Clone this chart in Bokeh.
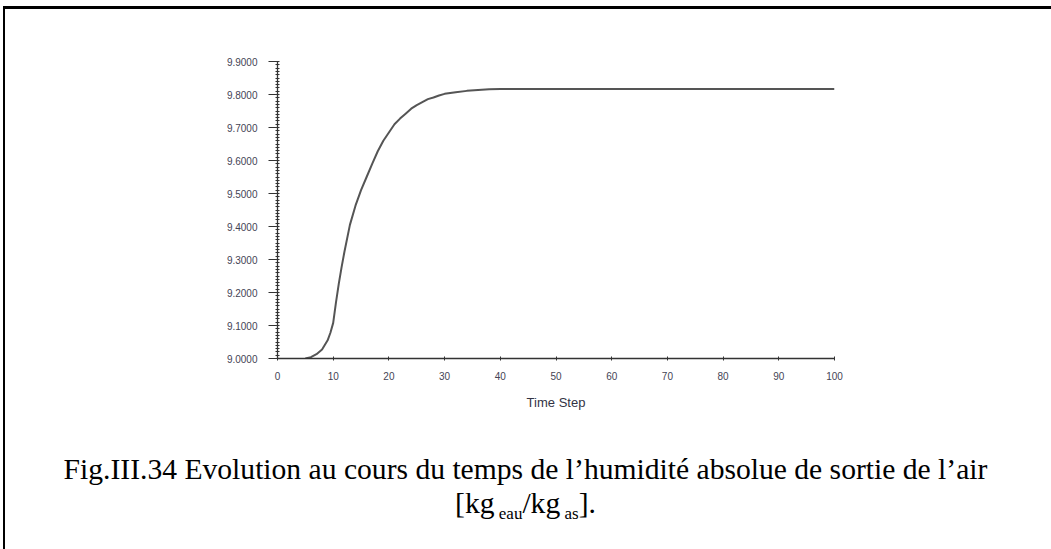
from bokeh.plotting import figure
from bokeh.models import Div, FixedTicker, NumeralTickFormatter
from bokeh.layouts import column
from bokeh.embed import file_html
from bokeh.resources import INLINE
import numpy as np

# ---- data ----
time_step = [5, 6, 7, 8, 9, 9.5, 10, 10.5, 11, 11.5, 12, 13, 14, 15, 16, 17,
             18, 19, 20, 21, 22, 23, 24, 25, 26, 27, 28, 29, 30, 32, 34, 36,
             38, 40, 50, 60, 70, 80, 90, 100]
humidity = [9.000, 9.004, 9.013, 9.027, 9.055, 9.078, 9.108, 9.170, 9.226,
            9.276, 9.322, 9.405, 9.463, 9.510, 9.550, 9.590, 9.628, 9.660,
            9.685, 9.710, 9.727, 9.742, 9.757, 9.768, 9.777, 9.786, 9.791,
            9.797, 9.802, 9.807, 9.811, 9.814, 9.816, 9.817, 9.817, 9.817,
            9.817, 9.817, 9.817, 9.817]
x_ticks = [0, 10, 20, 30, 40, 50, 60, 70, 80, 90, 100]
y_ticks = [9.0, 9.1, 9.2, 9.3, 9.4, 9.5, 9.6, 9.7, 9.8, 9.9]
x_label = "Time Step"
caption_line1 = "Fig.III.34 Evolution au cours du temps de l\u2019humidit\u00e9 absolue de sortie de l\u2019air"

BORDER_L = 2
BORDER_T = 3
MARGIN_L = 3
MARGIN_T = 6
X0 = MARGIN_L + BORDER_L
Y0 = MARGIN_T + BORDER_T

p = figure(width=1040, height=420,
           x_range=(0, 100), y_range=(9.0, 9.9),
           output_backend="svg", toolbar_location=None,
           min_border_left=277 - X0, min_border_right=1040 - (277 - X0) - 557,
           min_border_top=61 - Y0, min_border_bottom=420 - (61 - Y0) - 297)
p.outline_line_color = None
p.grid.grid_line_color = None
p.background_fill_color = "white"
p.border_fill_color = "white"

p.line(time_step, humidity, line_color="#555555", line_width=2)

minor_y = [float(v) for v in np.round(np.arange(9.0, 9.9001, 0.01), 3)]

ya = p.yaxis[0]
ya.ticker = FixedTicker(ticks=y_ticks, minor_ticks=minor_y)
ya.formatter = NumeralTickFormatter(format="0.0000")
ya.major_label_text_font = "Liberation Sans"
ya.major_label_text_font_size = "10px"
ya.major_label_text_color = "#444455"
ya.major_label_standoff = 11
ya.major_tick_out = 9
ya.major_tick_in = 0
ya.minor_tick_out = 2
ya.minor_tick_in = 2
ya.axis_line_color = "#333333"
ya.major_tick_line_color = "#333333"
ya.minor_tick_line_color = "#333333"
ya.axis_line_width = 1.3

xa = p.xaxis[0]
xa.ticker = FixedTicker(ticks=x_ticks, minor_ticks=[])
xa.major_label_text_font = "Liberation Sans"
xa.major_label_text_font_size = "10px"
xa.major_label_text_color = "#444455"
xa.major_label_standoff = 11
xa.major_tick_out = 2
xa.major_tick_in = 2
xa.minor_tick_line_color = None
xa.axis_line_color = "#333333"
xa.major_tick_line_color = "#333333"
xa.axis_line_width = 1.3
xa.axis_label = x_label
xa.axis_label_text_font = "Liberation Sans"
xa.axis_label_text_font_size = "13px"
xa.axis_label_text_font_style = "normal"
xa.axis_label_text_color = "#333344"
xa.axis_label_standoff = 12

caption_html = (
    "<div style=\"font-family:'Liberation Serif','Times New Roman',serif;"
    "font-size:29.6px;line-height:34px;text-align:center;color:#000;"
    "padding-top:18px;padding-left:14px;width:1017px;\">"
    + caption_line1 +
    "<br>[kg<span style=\"font-size:17px;position:relative;top:6px;\"> eau</span>/kg"
    "<span style=\"font-size:17px;position:relative;top:6px;\"> as</span>]."
    "</div>"
)
cap = Div(text=caption_html, width=1040, height=549 - Y0 - 420)

layout = column(p, cap, spacing=0,
                styles={"border-left": f"{BORDER_L}px solid black",
                        "border-top": f"{BORDER_T}px solid black",
                        "margin-left": f"{MARGIN_L}px",
                        "margin-top": f"{MARGIN_T}px",
                        "background": "white"})

open("out.html", "w").write(file_html(layout, INLINE))
